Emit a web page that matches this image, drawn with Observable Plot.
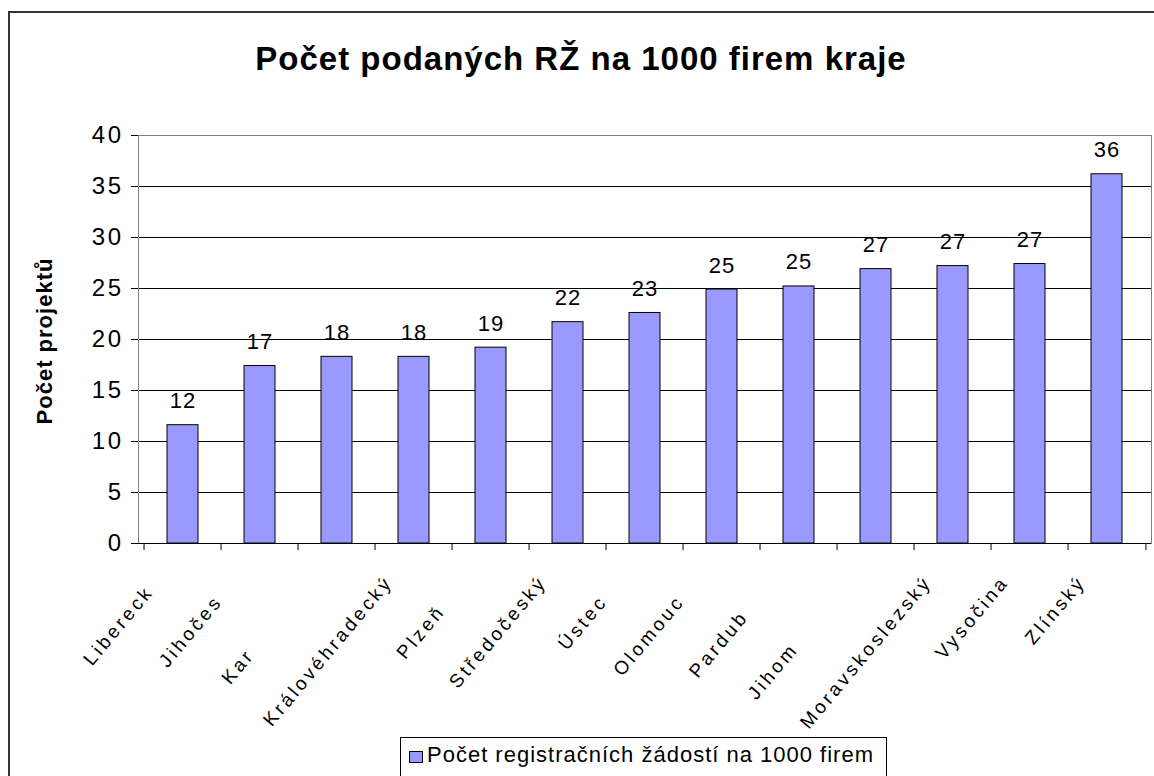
<!DOCTYPE html>
<html>
<head>
<meta charset="utf-8">
<script src="https://cdn.jsdelivr.net/npm/d3@7"></script>
<script src="https://cdn.jsdelivr.net/npm/@observablehq/plot@0.6"></script>
<style>
  html, body { margin: 0; padding: 0; background: #fff; }
  body { width: 1154px; height: 776px; overflow: hidden; position: relative;
         font-family: Arial, "Liberation Sans", sans-serif; color: #000; }
  #frame { position: absolute; left: 8px; top: 11px; width: 1300px; height: 900px;
           border-left: 2px solid #333; border-top: 2px solid #333; }
  #title { position: absolute; left: 0; width: 1162px; top: 42px; text-align: center;
           font-weight: bold; font-size: 33px; line-height: 33px; letter-spacing: 1px; white-space: nowrap; }
  #chart { position: absolute; left: 0; top: 100px; }
  #ylabel { position: absolute; left: 45px; top: 341px; transform: translate(-50%, -50%) rotate(-90deg);
            font-weight: bold; font-size: 22px; letter-spacing: 1px; white-space: nowrap; }
  #legend { position: absolute; left: 400px; top: 737px; width: 485px; height: 60px;
            border: 1px solid #000; background: #fff; }
  #legend .sw { position: absolute; left: 8px; top: 13px; width: 12px; height: 10px;
                background: #9999FF; border: 1px solid #000; }
  #legend .lt { position: absolute; left: 26px; top: 6px; font-size: 22px; line-height: 22px;
                letter-spacing: 1px; white-space: nowrap; }
  g[aria-label="x-axis tick label"] text { letter-spacing: 3.2px; }
  g[aria-label="y-axis tick label"] text { letter-spacing: 2.5px; }
  g[aria-label="text"] text { letter-spacing: 1px; }
</style>
</head>
<body>
<div id="frame"></div>
<div id="title"></div>
<div id="chart"></div>
<div id="ylabel"></div>
<div id="legend"><div class="sw"></div><div class="lt"></div></div>
<script>
// ---- data ----
const title = "Počet podaných RŽ na 1000 firem kraje";
const yLabel = "Počet projektů";
const legendLabel = "Počet registračních žádostí na 1000 firem";
const categories = ["Liberecký", "Jihočeský", "Karlovarský", "Královéhradecký", "Plzeňský",
  "Středočeský", "Ústecký", "Olomoucký", "Pardubický", "Jihomoravský",
  "Moravskoslezský", "Vysočina", "Zlínský"];
const values = [11.6, 17.4, 18.3, 18.3, 19.2, 21.7, 22.6, 24.9, 25.2, 26.9, 27.2, 27.4, 36.2];
// number of characters of each category label that are visible in the original (rest clipped)
const visibleChars = [8, 7, 3, 15, 5, 11, 5, 7, 6, 5, 15, 8, 7];
const yTicks = [0, 5, 10, 15, 20, 25, 30, 35, 40];

document.getElementById("title").textContent = title;
document.getElementById("ylabel").textContent = yLabel;
document.querySelector("#legend .lt").textContent = legendLabel;

const data = categories.map((c, i) => ({region: c, value: values[i], label: String(Math.round(values[i]))}));

const W = 1154, H = 635, mL = 138, mR = 3, mT = 35, mB = 192;
const half = (W - mL - mR) / categories.length / 2;

const chart = Plot.plot({
  width: W, height: H,
  marginLeft: mL, marginRight: mR, marginTop: mT, marginBottom: mB,
  style: {fontFamily: "Arial, 'Liberation Sans', sans-serif", color: "#000", background: "transparent", overflow: "visible"},
  x: {domain: categories, paddingInner: 0.6, paddingOuter: 0.3, axis: null},
  y: {domain: [0, 40], axis: null},
  marks: [
    Plot.gridY(yTicks.filter(t => t > 0 && t < 40), {stroke: "#000", strokeOpacity: 1}),
    Plot.frame({stroke: "#808080"}),
    Plot.barY(data, {x: "region", y: "value", fill: "#9999FF", stroke: "#000", strokeWidth: 1}),
    Plot.ruleY([0], {stroke: "#000"}),
    Plot.axisY({ticks: yTicks, tickSize: 7, tickPadding: 8, fontSize: 24, line: true, label: null}),
    Plot.ruleX(categories, {x: d => d, y1: 0, y2: 0, insetBottom: -7, dx: -half, stroke: "#000"}),
    Plot.ruleX(categories.slice(-1), {x: d => d, y1: 0, y2: 0, insetBottom: -7, dx: half, stroke: "#000"}),
    Plot.axisX({tickSize: 0, tickPadding: 35, tickRotate: -50, dx: -25, fontSize: 19, label: null}),
    Plot.text(data, {x: "region", y: "value", text: "label", dy: -17, lineAnchor: "bottom", fontSize: 22})
  ]
});
document.getElementById("chart").appendChild(chart);

// clip category labels as in the original (hidden tail kept as real text)
chart.querySelectorAll('g[aria-label="x-axis tick label"] text').forEach(t => {
  const full = t.textContent;
  const i = categories.indexOf(full);
  if (i < 0) return;
  const n = visibleChars[i];
  if (n >= full.length) return;
  t.textContent = "";
  const ns = "http://www.w3.org/2000/svg";
  const a = document.createElementNS(ns, "tspan"); a.textContent = full.slice(0, n);
  const b = document.createElementNS(ns, "tspan"); b.textContent = full.slice(n);
  b.setAttribute("fill-opacity", "0");
  t.appendChild(a); t.appendChild(b);
});
</script>
</body>
</html>
